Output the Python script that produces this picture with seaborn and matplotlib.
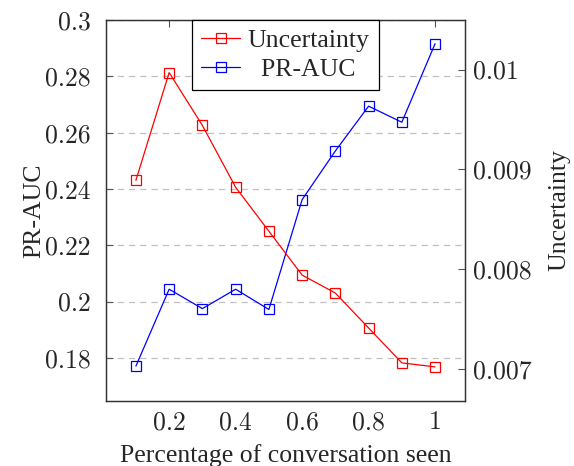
import matplotlib
matplotlib.use("Agg")
import matplotlib.pyplot as plt
import seaborn as sns
import pandas as pd
from matplotlib.lines import Line2D

sns.set_style("white")
plt.rcParams['font.family'] = ['Liberation Serif', 'DejaVu Serif']
plt.rcParams['mathtext.fontset'] = 'cm'

fraction = [0.1, 0.2, 0.3, 0.4, 0.5, 0.6, 0.7, 0.8, 0.9, 1.0]
pr_auc = [0.1771, 0.2044, 0.1975, 0.2044, 0.1972, 0.2362, 0.2535, 0.2694, 0.2637, 0.2916]
uncertainty = [0.00889, 0.00997, 0.00944, 0.00882, 0.00838, 0.00794, 0.00776, 0.00741, 0.00706, 0.00702]

left_ticks = [0.18, 0.2, 0.22, 0.24, 0.26, 0.28, 0.3]
left_labels = ["0.18", "0.2", "0.22", "0.24", "0.26", "0.28", "0.3"]
right_ticks = [0.007, 0.008, 0.009, 0.01]
right_labels = ["0.007", "0.008", "0.009", "0.01"]
x_ticks = [0.2, 0.4, 0.6, 0.8, 1.0]
x_labels = ["0.2", "0.4", "0.6", "0.8", "1"]

df = pd.DataFrame({"x": fraction, "pr": pr_auc, "unc": uncertainty})

fig = plt.figure(figsize=(5.74, 4.66), dpi=100)
ax = fig.add_axes([106/574, 65/466, 359/574, 381/466])
ax2 = ax.twinx()

mk = dict(marker='s', markersize=7.5, markerfacecolor='none', markeredgewidth=0.9, linewidth=0.9)
sns.lineplot(data=df, x="x", y="pr", ax=ax, color='#0000ff', markeredgecolor='#0000ff', **mk)
sns.lineplot(data=df, x="x", y="unc", ax=ax2, color='#ff0000', markeredgecolor='#ff0000', **mk)

ax.set_xlim(0.01, 1.09)
ax.set_ylim(0.1647, 0.3)
ax2.set_ylim(0.006678, 0.010497)

tickfont = {'family': 'cmr10', 'size': 18.5}
ax.set_xticks(x_ticks)
ax.set_xticklabels(x_labels, fontdict=tickfont)
ax.set_yticks(left_ticks)
ax.set_yticklabels(left_labels, fontdict=tickfont)
ax2.set_yticks(right_ticks)
ax2.set_yticklabels(right_labels, fontdict=tickfont)

ax.tick_params(axis='both', direction='in', length=5, width=0.8, color='#555555')
ax.tick_params(axis='x', top=True, pad=7)
ax.tick_params(axis='y', pad=11)
ax2.tick_params(axis='y', direction='in', length=5, width=0.8, color='#555555', pad=5.5)

ax.yaxis.grid(True, linestyle=(0, (5, 4)), color='#c0c0c0', linewidth=0.9)
ax.set_axisbelow(True)

for a in (ax, ax2):
    for s in a.spines.values():
        s.set_color('#333333')
        s.set_linewidth(0.9)

ax.set_xlabel("Percentage of conversation seen", fontsize=18.5, labelpad=7)
ax.set_ylabel("PR-AUC", fontsize=18.5, labelpad=0)
ax2.set_ylabel("Uncertainty", fontsize=18.5, labelpad=12)

handles = [Line2D([], [], color='#ff0000', markeredgecolor='#ff0000', **mk),
           Line2D([], [], color='#0000ff', markeredgecolor='#0000ff', **mk)]
leg = ax2.legend(handles, ["Uncertainty", "  PR-AUC"], loc='upper center', bbox_to_anchor=(0.5, 1.0),
                 fontsize=18.5, fancybox=False, framealpha=1, edgecolor='black',
                 handlelength=1.5, borderpad=0.35, labelspacing=0.22, handletextpad=0.3,
                 borderaxespad=0)
leg.get_frame().set_linewidth(0.9)

fig.savefig("out.png", dpi=100)
